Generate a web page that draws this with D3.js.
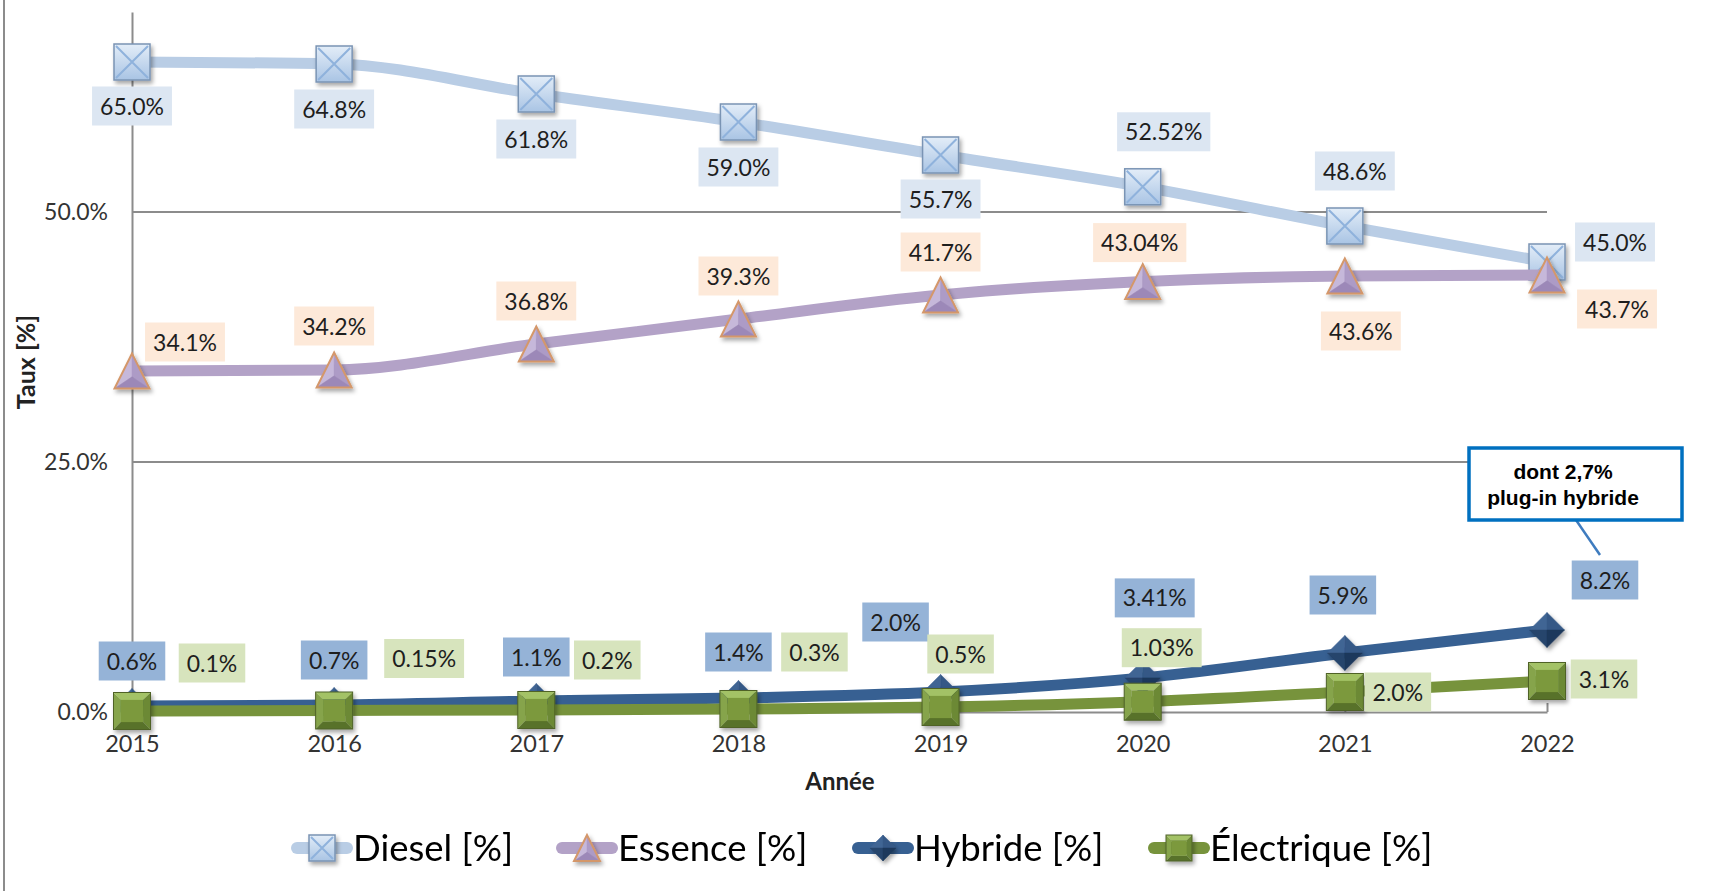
<!DOCTYPE html>
<html><head><meta charset="utf-8">
<script src="https://cdn.jsdelivr.net/npm/d3@7"></script>
<style>body{margin:0;background:#fff} svg{display:block}</style>
</head><body><svg id="c" width="1711" height="891"></svg>
<script>
// ---------- data ----------
const years = [2015, 2016, 2017, 2018, 2019, 2020, 2021, 2022];
const diesel = [65.0, 64.8, 61.8, 59.0, 55.7, 52.52, 48.6, 45.0];
const essence = [34.1, 34.2, 36.8, 39.3, 41.7, 43.04, 43.6, 43.7];
const hybride = [0.6, 0.7, 1.1, 1.4, 2.0, 3.41, 5.9, 8.2];
const electrique = [0.1, 0.15, 0.2, 0.3, 0.5, 1.03, 2.0, 3.1];
const yTicks = [0, 25, 50];
const seriesNames = ["Diesel [%]", "Essence [%]", "Hybride [%]", "Électrique [%]"];
const xTitle = "Année";
const yTitle = "Taux [%]";
const noteLines = ["dont 2,7%", "plug-in hybride"];

// ---------- layout (label offsets from their point) ----------
const labelOffsets = {
  diesel: [[0,44],[0,45],[0,45],[0,45],[0,44],[21,-55],[10,-55],[68,-20]],
  essence: [[53,-29],[0,-44],[0,-43],[0,-43],[0,-43],[-3,-39],[16,55],[70,34]],
  hybride: [[0,-45],[0,-45],[0,-44],[0,-46],[-45,-70],[12,-80],[-2,-58],[58,-50]],
  electrique: [[80,-48],[90,-52],[71,-50],[76,-57],[20,-53],[19,-54],[53,0],[57,-2]]
};

const svg = d3.select("#c");
const defs = svg.append("defs");
defs.append("filter").attr("id","sh").attr("x","-40%").attr("y","-40%").attr("width","180%").attr("height","180%")
  .append("feDropShadow").attr("dx",2).attr("dy",3).attr("stdDeviation",2)
  .attr("flood-color","#000").attr("flood-opacity",0.35);
const gd = defs.append("linearGradient").attr("id","gd").attr("x1",0).attr("y1",0).attr("x2",0).attr("y2",1);
gd.append("stop").attr("offset","0%").attr("stop-color","#E3EDF8");
gd.append("stop").attr("offset","100%").attr("stop-color","#A9C4E4");

const x = d3.scalePoint().domain(years).range([132, 1547]);
const y = d3.scaleLinear().domain([0, 70]).range([712, 12]);

// left chart border
svg.append("line").attr("x1",4).attr("x2",4).attr("y1",0).attr("y2",891)
  .attr("stroke","#8C8C8C").attr("stroke-width",2);

const grid = "#8C8C8C";
// gridlines
svg.append("g").selectAll("line").data(yTicks.filter(d=>d>0)).join("line")
  .attr("x1", x(years[0])).attr("x2", x(years[years.length-1]))
  .attr("y1", d=>y(d)).attr("y2", d=>y(d))
  .attr("stroke", grid).attr("stroke-width", 2);

// y axis
const yAxis = svg.append("g").attr("transform",`translate(${x(years[0])},0)`)
  .call(d3.axisLeft(y).tickValues(yTicks).tickSize(0).tickPadding(24)
    .tickFormat(d => d.toFixed(1) + "%"));
yAxis.select(".domain").attr("stroke", grid).attr("stroke-width", 2);
yAxis.selectAll("text").attr("font-family","Lato").attr("font-size",23).attr("fill","#333");

// x axis
const xAxis = svg.append("g").attr("transform",`translate(0,${y(0)})`)
  .call(d3.axisBottom(x).tickSizeInner(-9).tickSizeOuter(0).tickPadding(23));
xAxis.select(".domain").attr("stroke", grid).attr("stroke-width", 2);
xAxis.selectAll(".tick line").attr("stroke", grid).attr("stroke-width", 2);
xAxis.selectAll("text").attr("font-family","Lato").attr("font-size",23.5).attr("fill","#333");

// axis titles
svg.append("text").attr("x", 840).attr("y", 790).attr("text-anchor","middle")
  .attr("font-family","Lato").attr("font-weight","bold").attr("font-size",24).attr("fill","#222").text(xTitle);
svg.append("text").attr("transform","translate(35,362) rotate(-90)").attr("text-anchor","middle")
  .attr("font-family","Lato").attr("font-weight","bold").attr("font-size",25).attr("fill","#222").text(yTitle);

// ---------- markers ----------
function marker(g, type, s) {
  const h = s/2;
  if (type === "xsquare") {
    g.append("rect").attr("x",-h).attr("y",-h).attr("width",s).attr("height",s)
      .attr("fill","url(#gd)").attr("stroke","#7A94B4").attr("stroke-width",1.5);
    const i = h - 2;
    g.append("path").attr("d",`M${-i},${-i}L${i},${i}M${i},${-i}L${-i},${i}`)
      .attr("stroke","#8FB2DC").attr("stroke-width",2).attr("fill","none");
  } else if (type === "triangle") {
    const A=[0,-h], B=[-h,h], C=[h,h], O=[0,h/3];
    const tri = (p,q,r,f)=>g.append("path").attr("d",`M${p}L${q}L${r}Z`).attr("fill",f).attr("stroke",f).attr("stroke-width",0.5);
    tri(A,B,O,"#C6B8DA"); tri(A,C,O,"#AD9BC6"); tri(B,C,O,"#9C88B8");
    g.append("path").attr("d",`M${A}L${B}L${C}Z`).attr("fill","none")
      .attr("stroke","#D4976A").attr("stroke-width",2).attr("stroke-linejoin","miter");
  } else if (type === "diamond") {
    const T=[0,-h], R=[h,0], Bt=[0,h], L=[-h,0], O=[0,0];
    const tri = (p,q,r,f)=>g.append("path").attr("d",`M${p}L${q}L${r}Z`).attr("fill",f).attr("stroke",f).attr("stroke-width",0.5);
    tri(T,L,O,"#416594"); tri(T,R,O,"#345886"); tri(L,Bt,O,"#26446C"); tri(R,Bt,O,"#1E385B");
  } else if (type === "bsquare") {
    const b = s*0.2;
    const poly = (pts,f)=>g.append("polygon").attr("points",pts.map(p=>p.join(",")).join(" ")).attr("fill",f);
    poly([[-h,-h],[h,-h],[h-b,-h+b],[-h+b,-h+b]],"#A3C266");
    poly([[-h,-h],[-h+b,-h+b],[-h+b,h-b],[-h,h]],"#86A44B");
    poly([[h,-h],[h,h],[h-b,h-b],[h-b,-h+b]],"#6C8934");
    poly([[-h,h],[h,h],[h-b,h-b],[-h+b,h-b]],"#58722A");
    g.append("rect").attr("x",-h+b).attr("y",-h+b).attr("width",s-2*b).attr("height",s-2*b).attr("fill","#7B993E");
    g.append("rect").attr("x",-h).attr("y",-h).attr("width",s).attr("height",s)
      .attr("fill","none").attr("stroke","#4F6228").attr("stroke-width",1);
  }
}

const series = [
  {key:"diesel", name:seriesNames[0], values:diesel, line:"#B9CDE5", marker:"xsquare", size:36, lbl:"#DCE6F2"},
  {key:"essence", name:seriesNames[1], values:essence, line:"#B3A2C7", marker:"triangle", size:35, lbl:"#FDE9D9"},
  {key:"hybride", name:seriesNames[2], values:hybride, line:"#376092", marker:"diamond", size:35, lbl:"#95B3D7"},
  {key:"electrique", name:seriesNames[3], values:electrique, line:"#77933C", marker:"bsquare", size:37, lbl:"#D7E4BD"}
];

const lineGen = d3.line().x(d=>x(d.year)).y(d=>y(d.v)).curve(d3.curveMonotoneX);

series.forEach(s => {
  const pts = years.map((yr,i)=>({year:yr, v:s.values[i]}));
  svg.append("path").datum(pts).attr("d", lineGen).attr("fill","none")
    .attr("stroke", s.line).attr("stroke-width", 11).attr("stroke-linejoin","round");
  const mg = svg.append("g").attr("filter","url(#sh)");
  pts.forEach(p => {
    const g = mg.append("g").attr("transform",`translate(${x(p.year)},${y(p.v)})`);
    marker(g, s.marker, s.size);
  });
});

// ---------- data labels ----------
const fmt = v => (Math.abs(v*10 - Math.round(v*10)) < 1e-6 ? v.toFixed(1) : v.toFixed(2)) + "%";
const lblLayer = svg.append("g");
series.forEach(s => {
  s.values.forEach((v,i) => {
    const [dx,dy] = labelOffsets[s.key][i];
    const cx = x(years[i]) + dx, cy = y(v) + dy;
    const g = lblLayer.append("g").attr("transform",`translate(${cx},${cy})`);
    const r = g.append("rect").attr("fill", s.lbl);
    const t = g.append("text").attr("text-anchor","middle").attr("y",8.5)
      .attr("font-family","Lato").attr("font-size",23).attr("fill","#1E1E1E").text(fmt(v));
    const w = t.node().getComputedTextLength() + 16;
    r.attr("x",-w/2).attr("y",-19.5).attr("width",w).attr("height",39);
  });
});

// ---------- callout ----------
svg.append("line").attr("x1",1576).attr("y1",520).attr("x2",1600).attr("y2",555)
  .attr("stroke","#3F7CBF").attr("stroke-width",2.5);
svg.append("rect").attr("x",1469).attr("y",448).attr("width",213).attr("height",72)
  .attr("fill","#fff").attr("stroke","#0070C0").attr("stroke-width",3.5);
noteLines.forEach((t,i)=>{
  svg.append("text").attr("x",1563).attr("y",479 + i*26).attr("text-anchor","middle")
    .attr("font-family","Liberation Sans, Arial").attr("font-weight","bold").attr("font-size",21)
    .attr("fill","#000").text(t);
});

// ---------- legend ----------
const legendStarts = [291, 556, 852, 1148];
series.forEach((s,i) => {
  const sx = legendStarts[i], ly = 848;
  svg.append("line").attr("x1",sx+6).attr("x2",sx+56).attr("y1",ly).attr("y2",ly)
    .attr("stroke",s.line).attr("stroke-width",12).attr("stroke-linecap","round");
  const g = svg.append("g").attr("transform",`translate(${sx+31},${ly})`).attr("filter","url(#sh)");
  marker(g, s.marker, 26);
  svg.append("text").attr("x",sx+62).attr("y",861).attr("font-family","Lato").attr("font-size",36.5)
    .attr("fill","#000").text(s.name);
});
</script></body></html>
